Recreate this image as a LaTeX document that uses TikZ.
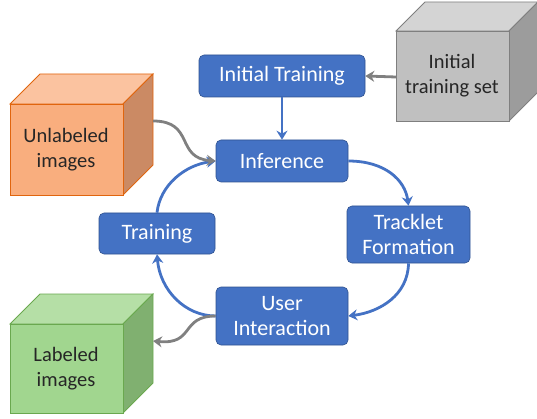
\documentclass[tikz,border=0pt]{standalone}
\usepackage{fontspec}
\setmainfont{Carlito}
\usetikzlibrary{arrows.meta}
\definecolor{boxblue}{HTML}{4472C4}
\definecolor{boxedge}{HTML}{2F528F}
\definecolor{flowblue}{HTML}{4472C4}
\definecolor{ogfront}{HTML}{F9AE7E}
\definecolor{ogtop}{HTML}{FBC3A0}
\definecolor{ogside}{HTML}{CB8A64}
\definecolor{ogedge}{HTML}{E0650E}
\definecolor{gyfront}{HTML}{C0C0C0}
\definecolor{gytop}{HTML}{D4D4D4}
\definecolor{gyside}{HTML}{9C9C9C}
\definecolor{gyedge}{HTML}{7F7F7F}
\definecolor{grfront}{HTML}{A1D68F}
\definecolor{grtop}{HTML}{B5DFA6}
\definecolor{grside}{HTML}{80B070}
\definecolor{gredge}{HTML}{6AA84F}
\definecolor{arrgray}{HTML}{808080}
\tikzset{
  stepbox/.style={draw=boxedge, line width=0.6pt, fill=boxblue, rounded corners=5pt, text=white, font=\fontsize{22}{25}\selectfont, align=center, inner sep=0pt},
  flow/.style={draw=flowblue, line width=2.8pt, -{Stealth[length=9pt,width=11pt]}},
  grayflow/.style={draw=arrgray, line width=2.8pt, -{Stealth[length=9pt,width=11pt]}},
  cubetext/.style={text=black!85, font=\fontsize{20.5}{25}\selectfont, align=center},
}
\newcommand{\mycube}[8]{%
  \filldraw[fill=#7, draw=\cubeedge, line width=0.8pt] (#1,#2) -- (#1+#5,#2-#5) -- (#3+#5,#2-#5) -- (#3,#2) -- cycle;
  \filldraw[fill=#8, draw=\cubeedge, line width=0.8pt] (#3,#2) -- (#3+#5,#2-#5) -- (#3+#5,#4-#5) -- (#3,#4) -- cycle;
  \filldraw[fill=#6, draw=\cubeedge, line width=0.8pt] (#1,#2) rectangle (#3,#4);
}
\begin{document}
\begin{tikzpicture}[x=1pt,y=-1pt]
\useasboundingbox (0,0) rectangle (537,419);
% cubes
\def\cubeedge{ogedge}
\mycube{10}{104}{123}{195}{30}{ogfront}{ogtop}{ogside}
\def\cubeedge{gyedge}
\mycube{396}{31}{509}{121}{29}{gyfront}{gytop}{gyside}
\def\cubeedge{gredge}
\mycube{10}{324}{123}{413}{30}{grfront}{grtop}{grside}
\node[cubetext] (unl) at (66,150) {Unlabeled\\images};
\node[cubetext] (ini) at (452,76) {Initial\\training set};
\node[cubetext] (lab) at (66,369) {Labeled\\images};
\coordinate (unlside) at (153,121);
\coordinate (iniside) at (396,77);
\coordinate (labside) at (153,341);
% steps
\node[stepbox, minimum width=166pt, minimum height=42pt] (itr) at (282,76) {Initial Training};
\node[stepbox, minimum width=132pt, minimum height=42pt] (inf) at (282,161) {Inference};
\node[stepbox, minimum width=123pt, minimum height=57pt] (trk) at (408.5,234.5) {Tracklet\\Formation};
\node[stepbox, minimum width=132pt, minimum height=58pt] (usr) at (282,316) {User\\Interaction};
\node[stepbox, minimum width=116pt, minimum height=41pt] (trn) at (157,233.5) {Training};
% arrows
\draw[grayflow] (iniside) -- (itr.east);
\draw[flow] (itr.south) -- (inf.north);
\draw[flow] (inf.east) .. controls (385,161) and (405,180) .. (trk.north);
\draw[flow] (trk.south) .. controls (408,295) and (380,312) .. (usr.east);
\draw[flow] (usr.west) .. controls (185,316) and (160,290) .. (trn.south);
\draw[flow] (trn.north) .. controls (160,185) and (185,165) .. (inf.west);
\draw[grayflow] (unlside) .. controls (195,121) and (175,158) .. (inf.west);
\draw[grayflow] (usr.west) .. controls (180,316) and (195,345) .. (labside);
\end{tikzpicture}
\end{document}
